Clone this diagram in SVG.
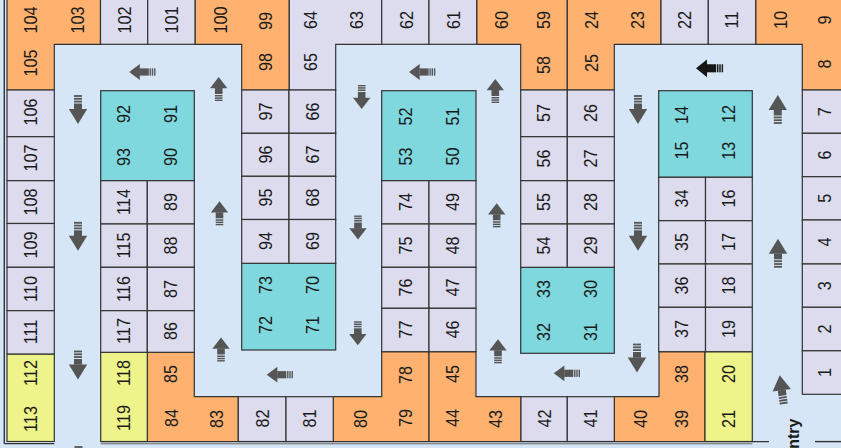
<svg xmlns="http://www.w3.org/2000/svg" width="841" height="448" viewBox="0 0 841 448">
<style>
.lav{fill:#dcdcee;stroke:#333;stroke-width:1.2}
.org{fill:#ffb270;stroke:#333;stroke-width:1.2}
.cyn{fill:#80d8df;stroke:#333;stroke-width:1.2}
.yel{fill:#eef38a;stroke:#333;stroke-width:1.2}
text{font-family:"Liberation Sans",Arial,sans-serif;font-size:17.5px;fill:#1a1a1a;text-anchor:middle}
.ent{font-weight:bold;font-size:16px;text-anchor:end}
.ar{fill:#555}
.ark{fill:#161616}
.wall{stroke:#333;stroke-width:1.4;fill:none}
.wall2{stroke:#666;stroke-width:1;fill:none}
</style>
<defs>
<g id="aS">
<polygon points="0,-12 8.7,-0.8 -8.7,-0.8"/>
<rect x="-3.8" y="-1" width="7.6" height="6"/>
<rect x="-3.8" y="6" width="7.6" height="1.5"/>
<rect x="-3.8" y="8.3" width="7.6" height="1.5"/>
<rect x="-3.8" y="10.6" width="7.6" height="1.4"/>
</g>
<g id="aL">
<polygon points="0,-14.5 9.2,0.5 -9.2,0.5"/>
<rect x="-4" y="0.3" width="8" height="5.7"/>
<rect x="-4" y="7" width="8" height="1.8"/>
<rect x="-4" y="9.8" width="8" height="1.8"/>
<rect x="-4" y="12.6" width="8" height="1.8"/>
</g>
<g id="aH">
<polygon points="-13.3,0 -2.6,-7.9 -2.6,7.9"/>
<rect x="-2.8" y="-3.6" width="9.1" height="7.2"/>
<rect x="7.1" y="-3.6" width="1.4" height="7.2"/>
<rect x="9.3" y="-3.6" width="1.4" height="7.2"/>
<rect x="11.6" y="-3.6" width="1.4" height="7.2"/>
</g>
</defs>
<rect x="0" y="0" width="841" height="448" fill="#d6e6f6"/>

<!-- merged L blocks -->
<g id="b104"><polygon class="org" points="7,-5 100.5,-5 100.5,44.3 54.3,44.3 54.3,90 7,90"/>
<text transform="translate(30.6 20) rotate(-90) scale(.93 1)" y="6.3">104</text>
<text transform="translate(77.4 20) rotate(-90) scale(.93 1)" y="6.3">103</text>
<text transform="translate(30.6 63) rotate(-90) scale(.93 1)" y="6.3">105</text></g>
<g id="b100"><polygon class="org" points="195,-5 289.3,-5 289.3,90 241.7,90 241.7,44.3 195,44.3"/>
<text transform="translate(221 20) rotate(-90) scale(.93 1)" y="6.3">100</text>
<text transform="translate(265.3 21) rotate(-90) scale(.93 1)" y="6.3">99</text>
<text transform="translate(265.3 62) rotate(-90) scale(.93 1)" y="6.3">98</text></g>
<g id="b64"><polygon class="lav" points="289.3,-5 381.7,-5 381.7,44.3 335.7,44.3 335.7,90 289.3,90"/>
<text transform="translate(311 20) rotate(-90) scale(.93 1)" y="6.3">64</text>
<text transform="translate(356.5 20) rotate(-90) scale(.93 1)" y="6.3">63</text>
<text transform="translate(311 62) rotate(-90) scale(.93 1)" y="6.3">65</text></g>
<g id="b60"><polygon class="org" points="476.7,-5 567.3,-5 567.3,90 520.7,90 520.7,44.3 476.7,44.3"/>
<text transform="translate(502 20) rotate(-90) scale(.93 1)" y="6.3">60</text>
<text transform="translate(544 20) rotate(-90) scale(.93 1)" y="6.3">59</text>
<text transform="translate(544 65) rotate(-90) scale(.93 1)" y="6.3">58</text></g>
<g id="b24"><polygon class="org" points="567.3,-5 661,-5 661,44.3 614.3,44.3 614.3,90 567.3,90"/>
<text transform="translate(591.5 20) rotate(-90) scale(.93 1)" y="6.3">24</text>
<text transform="translate(637.5 20) rotate(-90) scale(.93 1)" y="6.3">23</text>
<text transform="translate(591.5 63) rotate(-90) scale(.93 1)" y="6.3">25</text></g>
<g id="b10"><polygon class="org" points="755.7,-5 846,-5 846,90 802.3,90 802.3,44.3 755.7,44.3"/>
<text transform="translate(781 20) rotate(-90) scale(.93 1)" y="6.3">10</text>
<text transform="translate(825 20) rotate(-90) scale(.93 1)" y="6.3">9</text>
<text transform="translate(825 64) rotate(-90) scale(.93 1)" y="6.3">8</text></g>
<g id="b85"><polygon class="org" points="147.3,352.3 194.3,352.3 194.3,396.7 238.3,396.7 238.3,441.5 147.3,441.5"/>
<text transform="translate(170.8 374) rotate(-90) scale(.93 1)" y="6.3">85</text>
<text transform="translate(171.5 418) rotate(-90) scale(.93 1)" y="6.3">84</text>
<text transform="translate(216.5 419) rotate(-90) scale(.93 1)" y="6.3">83</text></g>
<g id="b80"><polygon class="org" points="333.3,396.7 381.7,396.7 381.7,351.7 429,351.7 429,441.5 333.3,441.5"/>
<text transform="translate(361 419) rotate(-90) scale(.93 1)" y="6.3">80</text>
<text transform="translate(405.3 418) rotate(-90) scale(.93 1)" y="6.3">79</text>
<text transform="translate(405.3 375) rotate(-90) scale(.93 1)" y="6.3">78</text></g>
<g id="b45"><polygon class="org" points="429,351.7 476,351.7 476,396.7 521,396.7 521,441.5 429,441.5"/>
<text transform="translate(452.5 374) rotate(-90) scale(.93 1)" y="6.3">45</text>
<text transform="translate(452.5 418) rotate(-90) scale(.93 1)" y="6.3">44</text>
<text transform="translate(496 419) rotate(-90) scale(.93 1)" y="6.3">43</text></g>
<g id="b40"><polygon class="org" points="614.3,396.7 659,396.7 659,351.7 705,351.7 705,441.5 614.3,441.5"/>
<text transform="translate(641 419) rotate(-90) scale(.93 1)" y="6.3">40</text>
<text transform="translate(682 419) rotate(-90) scale(.93 1)" y="6.3">39</text>
<text transform="translate(682 374) rotate(-90) scale(.93 1)" y="6.3">38</text></g>

<!-- yellow blocks -->
<g id="b112"><rect class="yel" x="7" y="354" width="47.3" height="87.5"/>
<text transform="translate(30.6 373) rotate(-90) scale(.93 1)" y="6.3">112</text>
<text transform="translate(30.6 419) rotate(-90) scale(.93 1)" y="6.3">113</text></g>
<g id="b118"><rect class="yel" x="100.7" y="352.3" width="46.6" height="89.2"/>
<text transform="translate(124 373) rotate(-90) scale(.93 1)" y="6.3">118</text>
<text transform="translate(124 418) rotate(-90) scale(.93 1)" y="6.3">119</text></g>
<g id="b20"><rect class="yel" x="705" y="351.7" width="47.3" height="89.8"/>
<text transform="translate(728.7 374) rotate(-90) scale(.93 1)" y="6.3">20</text>
<text transform="translate(728.7 419) rotate(-90) scale(.93 1)" y="6.3">21</text></g>

<!-- cyan blocks -->
<g id="b92"><rect class="cyn" x="100.7" y="90.7" width="93.6" height="90"/>
<text transform="translate(124 114) rotate(-90) scale(.93 1)" y="6.3">92</text>
<text transform="translate(170.8 114) rotate(-90) scale(.93 1)" y="6.3">91</text>
<text transform="translate(124 157) rotate(-90) scale(.93 1)" y="6.3">93</text>
<text transform="translate(170.8 157) rotate(-90) scale(.93 1)" y="6.3">90</text></g>
<g id="b73"><rect class="cyn" x="241.7" y="263.3" width="94" height="86.7"/>
<text transform="translate(265.3 285) rotate(-90) scale(.93 1)" y="6.3">73</text>
<text transform="translate(312.3 285) rotate(-90) scale(.93 1)" y="6.3">70</text>
<text transform="translate(265.3 325) rotate(-90) scale(.93 1)" y="6.3">72</text>
<text transform="translate(312.3 325) rotate(-90) scale(.93 1)" y="6.3">71</text></g>
<g id="b52"><rect class="cyn" x="381.7" y="90.7" width="94.3" height="90"/>
<text transform="translate(405.3 116.5) rotate(-90) scale(.93 1)" y="6.3">52</text>
<text transform="translate(452.5 116.5) rotate(-90) scale(.93 1)" y="6.3">51</text>
<text transform="translate(405.3 156.5) rotate(-90) scale(.93 1)" y="6.3">53</text>
<text transform="translate(452.5 156.5) rotate(-90) scale(.93 1)" y="6.3">50</text></g>
<g id="b33"><rect class="cyn" x="520.7" y="267.3" width="93.6" height="86"/>
<text transform="translate(544 289) rotate(-90) scale(.93 1)" y="6.3">33</text>
<text transform="translate(590.8 289) rotate(-90) scale(.93 1)" y="6.3">30</text>
<text transform="translate(544 332) rotate(-90) scale(.93 1)" y="6.3">32</text>
<text transform="translate(590.8 332) rotate(-90) scale(.93 1)" y="6.3">31</text></g>
<g id="b14"><rect class="cyn" x="658.7" y="90.7" width="93.6" height="86.6"/>
<text transform="translate(682 115) rotate(-90) scale(.93 1)" y="6.3">14</text>
<text transform="translate(729 114) rotate(-90) scale(.93 1)" y="6.3">12</text>
<text transform="translate(682 150.5) rotate(-90) scale(.93 1)" y="6.3">15</text>
<text transform="translate(729 150.8) rotate(-90) scale(.93 1)" y="6.3">13</text></g>

<!-- single stalls -->
<g id="s106"><rect class="lav" x="7" y="90" width="47.3" height="46.7"/><text transform="translate(30.6 112) rotate(-90) scale(.93 1)" y="6.3">106</text></g>
<g id="s107"><rect class="lav" x="7" y="136.7" width="47.3" height="44"/><text transform="translate(30.6 158) rotate(-90) scale(.93 1)" y="6.3">107</text></g>
<g id="s108"><rect class="lav" x="7" y="180.7" width="47.3" height="42.8"/><text transform="translate(30.6 202) rotate(-90) scale(.93 1)" y="6.3">108</text></g>
<g id="s109"><rect class="lav" x="7" y="223.5" width="47.3" height="43.8"/><text transform="translate(30.6 245) rotate(-90) scale(.93 1)" y="6.3">109</text></g>
<g id="s110"><rect class="lav" x="7" y="267.3" width="47.3" height="43.4"/><text transform="translate(30.6 289) rotate(-90) scale(.93 1)" y="6.3">110</text></g>
<g id="s111"><rect class="lav" x="7" y="310.7" width="47.3" height="43.3"/><text transform="translate(30.6 332) rotate(-90) scale(.93 1)" y="6.3">111</text></g>

<g id="s102"><rect class="lav" x="100.5" y="-5" width="47.2" height="49.3"/><text transform="translate(124.5 20) rotate(-90) scale(.93 1)" y="6.3">102</text></g>
<g id="s101"><rect class="lav" x="147.7" y="-5" width="47.3" height="49.3"/><text transform="translate(172 20) rotate(-90) scale(.93 1)" y="6.3">101</text></g>
<g id="s62"><rect class="lav" x="381.7" y="-5" width="47.3" height="49.3"/><text transform="translate(406.5 20) rotate(-90) scale(.93 1)" y="6.3">62</text></g>
<g id="s61"><rect class="lav" x="429" y="-5" width="47.7" height="49.3"/><text transform="translate(453.5 20) rotate(-90) scale(.93 1)" y="6.3">61</text></g>
<g id="s22"><rect class="lav" x="661" y="-5" width="47.3" height="49.3"/><text transform="translate(685 20) rotate(-90) scale(.93 1)" y="6.3">22</text></g>
<g id="s11"><rect class="lav" x="708.3" y="-5" width="47.4" height="49.3"/><text transform="translate(732 20) rotate(-90) scale(.93 1)" y="6.3">11</text></g>

<g id="s114"><rect class="lav" x="100.7" y="180.7" width="46.6" height="43.3"/><text transform="translate(124 202) rotate(-90) scale(.93 1)" y="6.3">114</text></g>
<g id="s89"><rect class="lav" x="147.3" y="180.7" width="47" height="43.3"/><text transform="translate(170.8 202) rotate(-90) scale(.93 1)" y="6.3">89</text></g>
<g id="s115"><rect class="lav" x="100.7" y="224" width="46.6" height="43.3"/><text transform="translate(124 245.5) rotate(-90) scale(.93 1)" y="6.3">115</text></g>
<g id="s88"><rect class="lav" x="147.3" y="224" width="47" height="43.3"/><text transform="translate(170.8 245.5) rotate(-90) scale(.93 1)" y="6.3">88</text></g>
<g id="s116"><rect class="lav" x="100.7" y="267.3" width="46.6" height="43.4"/><text transform="translate(124 289) rotate(-90) scale(.93 1)" y="6.3">116</text></g>
<g id="s87"><rect class="lav" x="147.3" y="267.3" width="47" height="43.4"/><text transform="translate(170.8 289) rotate(-90) scale(.93 1)" y="6.3">87</text></g>
<g id="s117"><rect class="lav" x="100.7" y="310.7" width="46.6" height="41.6"/><text transform="translate(124 331) rotate(-90) scale(.93 1)" y="6.3">117</text></g>
<g id="s86"><rect class="lav" x="147.3" y="310.7" width="47" height="41.6"/><text transform="translate(170.8 331) rotate(-90) scale(.93 1)" y="6.3">86</text></g>

<g id="s97"><rect class="lav" x="241.7" y="90" width="47.3" height="43.3"/><text transform="translate(265.3 111.5) rotate(-90) scale(.93 1)" y="6.3">97</text></g>
<g id="s66"><rect class="lav" x="289" y="90" width="46.7" height="43.3"/><text transform="translate(312.3 111.5) rotate(-90) scale(.93 1)" y="6.3">66</text></g>
<g id="s96"><rect class="lav" x="241.7" y="133.3" width="47.3" height="43"/><text transform="translate(265.3 154.5) rotate(-90) scale(.93 1)" y="6.3">96</text></g>
<g id="s67"><rect class="lav" x="289" y="133.3" width="46.7" height="43"/><text transform="translate(312.3 154.5) rotate(-90) scale(.93 1)" y="6.3">67</text></g>
<g id="s95"><rect class="lav" x="241.7" y="176.3" width="47.3" height="43.2"/><text transform="translate(265.3 197.5) rotate(-90) scale(.93 1)" y="6.3">95</text></g>
<g id="s68"><rect class="lav" x="289" y="176.3" width="46.7" height="43.2"/><text transform="translate(312.3 197.5) rotate(-90) scale(.93 1)" y="6.3">68</text></g>
<g id="s94"><rect class="lav" x="241.7" y="219.5" width="47.3" height="43.8"/><text transform="translate(265.3 241) rotate(-90) scale(.93 1)" y="6.3">94</text></g>
<g id="s69"><rect class="lav" x="289" y="219.5" width="46.7" height="43.8"/><text transform="translate(312.3 241) rotate(-90) scale(.93 1)" y="6.3">69</text></g>

<g id="s82"><rect class="lav" x="238.3" y="396.7" width="47.7" height="44.8"/><text transform="translate(262.2 418.5) rotate(-90) scale(.93 1)" y="6.3">82</text></g>
<g id="s81"><rect class="lav" x="286" y="396.7" width="47.3" height="44.8"/><text transform="translate(309.7 418.5) rotate(-90) scale(.93 1)" y="6.3">81</text></g>

<g id="s74"><rect class="lav" x="381.7" y="180.7" width="47.3" height="43.3"/><text transform="translate(405.3 202) rotate(-90) scale(.93 1)" y="6.3">74</text></g>
<g id="s49"><rect class="lav" x="429" y="180.7" width="47" height="43.3"/><text transform="translate(452.5 202) rotate(-90) scale(.93 1)" y="6.3">49</text></g>
<g id="s75"><rect class="lav" x="381.7" y="224" width="47.3" height="43.3"/><text transform="translate(405.3 245.5) rotate(-90) scale(.93 1)" y="6.3">75</text></g>
<g id="s48"><rect class="lav" x="429" y="224" width="47" height="43.3"/><text transform="translate(452.5 245.5) rotate(-90) scale(.93 1)" y="6.3">48</text></g>
<g id="s76"><rect class="lav" x="381.7" y="267.3" width="47.3" height="41"/><text transform="translate(405.3 287.5) rotate(-90) scale(.93 1)" y="6.3">76</text></g>
<g id="s47"><rect class="lav" x="429" y="267.3" width="47" height="41"/><text transform="translate(452.5 287.5) rotate(-90) scale(.93 1)" y="6.3">47</text></g>
<g id="s77"><rect class="lav" x="381.7" y="308.3" width="47.3" height="43.4"/><text transform="translate(405.3 329.5) rotate(-90) scale(.93 1)" y="6.3">77</text></g>
<g id="s46"><rect class="lav" x="429" y="308.3" width="47" height="43.4"/><text transform="translate(452.5 329.5) rotate(-90) scale(.93 1)" y="6.3">46</text></g>

<g id="s57"><rect class="lav" x="520.7" y="90" width="46.6" height="46.7"/><text transform="translate(544 113) rotate(-90) scale(.93 1)" y="6.3">57</text></g>
<g id="s26"><rect class="lav" x="567.3" y="90" width="47" height="46.7"/><text transform="translate(590.8 113) rotate(-90) scale(.93 1)" y="6.3">26</text></g>
<g id="s56"><rect class="lav" x="520.7" y="136.7" width="46.6" height="44"/><text transform="translate(544 158.5) rotate(-90) scale(.93 1)" y="6.3">56</text></g>
<g id="s27"><rect class="lav" x="567.3" y="136.7" width="47" height="44"/><text transform="translate(590.8 158.5) rotate(-90) scale(.93 1)" y="6.3">27</text></g>
<g id="s55"><rect class="lav" x="520.7" y="180.7" width="46.6" height="43.3"/><text transform="translate(544 202) rotate(-90) scale(.93 1)" y="6.3">55</text></g>
<g id="s28"><rect class="lav" x="567.3" y="180.7" width="47" height="43.3"/><text transform="translate(590.8 202) rotate(-90) scale(.93 1)" y="6.3">28</text></g>
<g id="s54"><rect class="lav" x="520.7" y="224" width="46.6" height="43.3"/><text transform="translate(544 245.5) rotate(-90) scale(.93 1)" y="6.3">54</text></g>
<g id="s29"><rect class="lav" x="567.3" y="224" width="47" height="43.3"/><text transform="translate(590.8 245.5) rotate(-90) scale(.93 1)" y="6.3">29</text></g>
<g id="s42"><rect class="lav" x="521" y="396.7" width="46.3" height="44.8"/><text transform="translate(544.2 418.5) rotate(-90) scale(.93 1)" y="6.3">42</text></g>
<g id="s41"><rect class="lav" x="567.3" y="396.7" width="47" height="44.8"/><text transform="translate(590.8 418.5) rotate(-90) scale(.93 1)" y="6.3">41</text></g>

<g id="s34"><rect class="lav" x="658.7" y="177.3" width="46.8" height="43.4"/><text transform="translate(682 198.5) rotate(-90) scale(.93 1)" y="6.3">34</text></g>
<g id="s16"><rect class="lav" x="705.5" y="177.3" width="46.8" height="43.4"/><text transform="translate(729 198.5) rotate(-90) scale(.93 1)" y="6.3">16</text></g>
<g id="s35"><rect class="lav" x="658.7" y="220.7" width="46.8" height="43.3"/><text transform="translate(682 242) rotate(-90) scale(.93 1)" y="6.3">35</text></g>
<g id="s17"><rect class="lav" x="705.5" y="220.7" width="46.8" height="43.3"/><text transform="translate(729 242) rotate(-90) scale(.93 1)" y="6.3">17</text></g>
<g id="s36"><rect class="lav" x="658.7" y="264" width="46.8" height="43.3"/><text transform="translate(682 285.5) rotate(-90) scale(.93 1)" y="6.3">36</text></g>
<g id="s18"><rect class="lav" x="705.5" y="264" width="46.8" height="43.3"/><text transform="translate(729 285.5) rotate(-90) scale(.93 1)" y="6.3">18</text></g>
<g id="s37"><rect class="lav" x="658.7" y="307.3" width="46.8" height="44.4"/><text transform="translate(682 329) rotate(-90) scale(.93 1)" y="6.3">37</text></g>
<g id="s19"><rect class="lav" x="705.5" y="307.3" width="46.8" height="44.4"/><text transform="translate(729 329) rotate(-90) scale(.93 1)" y="6.3">19</text></g>

<g id="s7"><rect class="lav" x="802.3" y="90" width="45" height="43.3"/><text transform="translate(825 111.7) rotate(-90) scale(.93 1)" y="6.3">7</text></g>
<g id="s6"><rect class="lav" x="802.3" y="133.3" width="45" height="43.4"/><text transform="translate(825 155) rotate(-90) scale(.93 1)" y="6.3">6</text></g>
<g id="s5"><rect class="lav" x="802.3" y="176.7" width="45" height="43.3"/><text transform="translate(825 198.3) rotate(-90) scale(.93 1)" y="6.3">5</text></g>
<g id="s4"><rect class="lav" x="802.3" y="220" width="45" height="44"/><text transform="translate(825 242) rotate(-90) scale(.93 1)" y="6.3">4</text></g>
<g id="s3"><rect class="lav" x="802.3" y="264" width="45" height="43.3"/><text transform="translate(825 285.7) rotate(-90) scale(.93 1)" y="6.3">3</text></g>
<g id="s2"><rect class="lav" x="802.3" y="307.3" width="45" height="43.5"/><text transform="translate(825 329) rotate(-90) scale(.93 1)" y="6.3">2</text></g>
<g id="s1"><rect class="lav" x="802.3" y="350.8" width="45" height="43.5"/><text transform="translate(825 372.5) rotate(-90) scale(.93 1)" y="6.3">1</text></g>

<!-- walls -->
<g id="walls">
<line class="wall" x1="4.3" y1="-5" x2="4.3" y2="443.6"/>
<polyline class="wall" points="4.3,443.6 54.3,443.6"/>
<line class="wall" x1="100.7" y1="441.6" x2="769" y2="441.6"/>
<line class="wall2" x1="100.7" y1="443.8" x2="752.3" y2="443.8"/>
<line class="wall" x1="815" y1="441.6" x2="846" y2="441.6"/>
</g>

<text class="ent" transform="translate(798.5 418.5) rotate(-90)">Entry</text>

<g id="arrows">
<use href="#aL" class="ar" transform="translate(78 109.5) rotate(180)"/>
<use href="#aL" class="ar" transform="translate(78 236.3) rotate(180)"/>
<use href="#aL" class="ar" transform="translate(78 365) rotate(180)"/>
<use href="#aL" class="ar" transform="translate(78.5 460.5) rotate(180)"/>
<use href="#aH" class="ar" transform="translate(142.5 72)"/>
<use href="#aS" class="ar" transform="translate(218.7 89)"/>
<use href="#aS" class="ar" transform="translate(219.5 213.3)"/>
<use href="#aS" class="ar" transform="translate(221 349.5)"/>
<use href="#aH" class="ar" transform="translate(280 374.7)"/>
<use href="#aS" class="ar" transform="translate(361.7 97) rotate(180)"/>
<use href="#aS" class="ar" transform="translate(358 227.5) rotate(180)"/>
<use href="#aS" class="ar" transform="translate(357.8 333.3) rotate(180)"/>
<use href="#aH" class="ar" transform="translate(422.3 72)"/>
<use href="#aS" class="ar" transform="translate(495.3 91)"/>
<use href="#aS" class="ar" transform="translate(496.7 215.3)"/>
<use href="#aS" class="ar" transform="translate(498 351.3)"/>
<use href="#aH" class="ar" transform="translate(567 373.3)"/>
<use href="#aL" class="ar" transform="translate(638 109.5) rotate(180)"/>
<use href="#aL" class="ar" transform="translate(638 236.3) rotate(180)"/>
<use href="#aL" class="ar" transform="translate(637 358) rotate(180)"/>
<use href="#aH" class="ark" transform="translate(709.7 68.3) scale(1.03 1.12)"/>
<use href="#aL" class="ar" transform="translate(777.8 109.5)"/>
<use href="#aL" class="ar" transform="translate(778 253.3)"/>
<use href="#aL" class="ar" transform="translate(781.7 389.7) rotate(-8)"/>
</g>
</svg>
